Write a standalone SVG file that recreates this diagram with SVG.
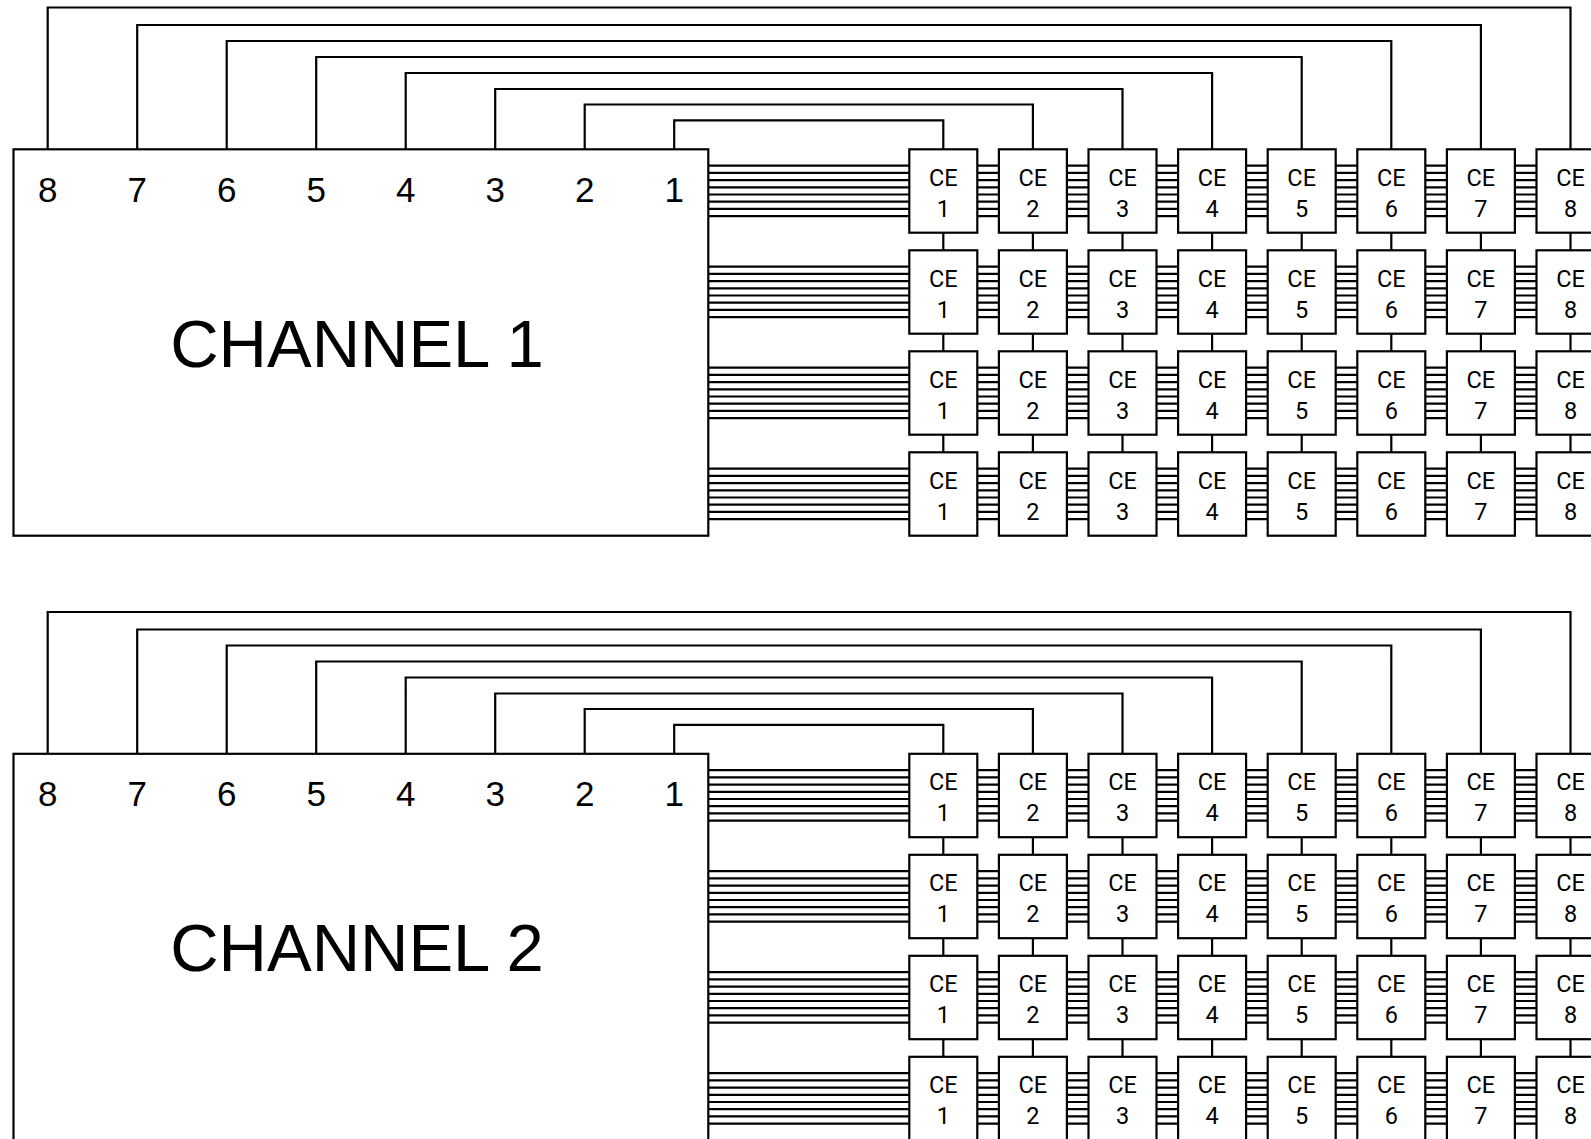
<svg xmlns="http://www.w3.org/2000/svg" xmlns:xlink="http://www.w3.org/1999/xlink" width="1591" height="1139" viewBox="0 0 1591 1139">
<style>
.box{fill:#fff;stroke:#000;stroke-width:2.2}
.ln{fill:none;stroke:#000;stroke-width:2.2}
.ce{font-family:Roboto,"Liberation Sans Narrow","DejaVu Sans Condensed",sans-serif;font-size:23.5px;text-anchor:middle;fill:#000}
.port{font-family:"Liberation Sans",Arial,sans-serif;font-size:35px;text-anchor:middle;fill:#000}
.chan{font-family:"Liberation Sans",Arial,sans-serif;font-size:67px;text-anchor:middle;fill:#000}
</style>
<defs>
<path id="bus" class="ln" d="M708.3 16.4H909.3M977.3 16.4H998.9M1066.9 16.4H1088.5M1156.5 16.4H1178.1M1246.1 16.4H1267.7M1335.7 16.4H1357.3M1425.3 16.4H1446.9M1514.9 16.4H1536.5
M708.3 23.6H909.3M977.3 23.6H998.9M1066.9 23.6H1088.5M1156.5 23.6H1178.1M1246.1 23.6H1267.7M1335.7 23.6H1357.3M1425.3 23.6H1446.9M1514.9 23.6H1536.5
M708.3 30.8H909.3M977.3 30.8H998.9M1066.9 30.8H1088.5M1156.5 30.8H1178.1M1246.1 30.8H1267.7M1335.7 30.8H1357.3M1425.3 30.8H1446.9M1514.9 30.8H1536.5
M708.3 38H909.3M977.3 38H998.9M1066.9 38H1088.5M1156.5 38H1178.1M1246.1 38H1267.7M1335.7 38H1357.3M1425.3 38H1446.9M1514.9 38H1536.5
M708.3 45.2H909.3M977.3 45.2H998.9M1066.9 45.2H1088.5M1156.5 45.2H1178.1M1246.1 45.2H1267.7M1335.7 45.2H1357.3M1425.3 45.2H1446.9M1514.9 45.2H1536.5
M708.3 52.4H909.3M977.3 52.4H998.9M1066.9 52.4H1088.5M1156.5 52.4H1178.1M1246.1 52.4H1267.7M1335.7 52.4H1357.3M1425.3 52.4H1446.9M1514.9 52.4H1536.5
M708.3 59.6H909.3M977.3 59.6H998.9M1066.9 59.6H1088.5M1156.5 59.6H1178.1M1246.1 59.6H1267.7M1335.7 59.6H1357.3M1425.3 59.6H1446.9M1514.9 59.6H1536.5
M708.3 66.8H909.3M977.3 66.8H998.9M1066.9 66.8H1088.5M1156.5 66.8H1178.1M1246.1 66.8H1267.7M1335.7 66.8H1357.3M1425.3 66.8H1446.9M1514.9 66.8H1536.5"/>
<path id="vert" class="ln" d="M943.3 83.4V101M1032.9 83.4V101M1122.5 83.4V101M1212.1 83.4V101M1301.7 83.4V101M1391.3 83.4V101M1480.9 83.4V101M1570.5 83.4V101"/>
<path id="routes" class="ln" d="M47.7 149.3V7.5H1570.5V149.3M137.2 149.3V25H1480.9V149.3M226.7 149.3V41H1391.3V149.3M316.2 149.3V57H1301.7V149.3M405.7 149.3V73H1212.1V149.3M495.2 149.3V89H1122.5V149.3M584.7 149.3V104.5H1032.9V149.3M674.2 149.3V120.3H943.3V149.3"/>
</defs>

<g id="connectors">
<use xlink:href="#routes"/>
<use xlink:href="#routes" transform="translate(0,604.5)"/>
<use xlink:href="#bus" transform="translate(0,149.3)"/>
<use xlink:href="#bus" transform="translate(0,250.3)"/>
<use xlink:href="#bus" transform="translate(0,351.3)"/>
<use xlink:href="#bus" transform="translate(0,452.3)"/>
<use xlink:href="#bus" transform="translate(0,753.8)"/>
<use xlink:href="#bus" transform="translate(0,854.8)"/>
<use xlink:href="#bus" transform="translate(0,955.8)"/>
<use xlink:href="#bus" transform="translate(0,1056.8)"/>
<use xlink:href="#vert" transform="translate(0,149.3)"/>
<use xlink:href="#vert" transform="translate(0,250.3)"/>
<use xlink:href="#vert" transform="translate(0,351.3)"/>
<use xlink:href="#vert" transform="translate(0,753.8)"/>
<use xlink:href="#vert" transform="translate(0,854.8)"/>
<use xlink:href="#vert" transform="translate(0,955.8)"/>
</g>

<g id="channel1">
<rect class="box" x="13.5" y="149.3" width="694.8" height="386.4"/>
<text class="port" x="47.7" y="201.7">8</text>
<text class="port" x="137.2" y="201.7">7</text>
<text class="port" x="226.7" y="201.7">6</text>
<text class="port" x="316.2" y="201.7">5</text>
<text class="port" x="405.7" y="201.7">4</text>
<text class="port" x="495.2" y="201.7">3</text>
<text class="port" x="584.7" y="201.7">2</text>
<text class="port" x="674.2" y="201.7">1</text>
<text class="chan" x="357" y="366.7">CHANNEL 1</text>
</g>

<g id="channel2">
<rect class="box" x="13.5" y="753.8" width="694.8" height="386.4"/>
<text class="port" x="47.7" y="806.2">8</text>
<text class="port" x="137.2" y="806.2">7</text>
<text class="port" x="226.7" y="806.2">6</text>
<text class="port" x="316.2" y="806.2">5</text>
<text class="port" x="405.7" y="806.2">4</text>
<text class="port" x="495.2" y="806.2">3</text>
<text class="port" x="584.7" y="806.2">2</text>
<text class="port" x="674.2" y="806.2">1</text>
<text class="chan" x="357" y="971.2">CHANNEL 2</text>
</g>

<g id="ch1-r1-ce1" transform="translate(909.3,149.3)"><rect class="box" width="68" height="83.4"/><text class="ce" x="34" y="36.7">CE</text><text class="ce" x="34" y="67.4">1</text></g>
<g id="ch1-r1-ce2" transform="translate(998.9,149.3)"><rect class="box" width="68" height="83.4"/><text class="ce" x="34" y="36.7">CE</text><text class="ce" x="34" y="67.4">2</text></g>
<g id="ch1-r1-ce3" transform="translate(1088.5,149.3)"><rect class="box" width="68" height="83.4"/><text class="ce" x="34" y="36.7">CE</text><text class="ce" x="34" y="67.4">3</text></g>
<g id="ch1-r1-ce4" transform="translate(1178.1,149.3)"><rect class="box" width="68" height="83.4"/><text class="ce" x="34" y="36.7">CE</text><text class="ce" x="34" y="67.4">4</text></g>
<g id="ch1-r1-ce5" transform="translate(1267.7,149.3)"><rect class="box" width="68" height="83.4"/><text class="ce" x="34" y="36.7">CE</text><text class="ce" x="34" y="67.4">5</text></g>
<g id="ch1-r1-ce6" transform="translate(1357.3,149.3)"><rect class="box" width="68" height="83.4"/><text class="ce" x="34" y="36.7">CE</text><text class="ce" x="34" y="67.4">6</text></g>
<g id="ch1-r1-ce7" transform="translate(1446.9,149.3)"><rect class="box" width="68" height="83.4"/><text class="ce" x="34" y="36.7">CE</text><text class="ce" x="34" y="67.4">7</text></g>
<g id="ch1-r1-ce8" transform="translate(1536.5,149.3)"><rect class="box" width="68" height="83.4"/><text class="ce" x="34" y="36.7">CE</text><text class="ce" x="34" y="67.4">8</text></g>

<g id="ch1-r2-ce1" transform="translate(909.3,250.3)"><rect class="box" width="68" height="83.4"/><text class="ce" x="34" y="36.7">CE</text><text class="ce" x="34" y="67.4">1</text></g>
<g id="ch1-r2-ce2" transform="translate(998.9,250.3)"><rect class="box" width="68" height="83.4"/><text class="ce" x="34" y="36.7">CE</text><text class="ce" x="34" y="67.4">2</text></g>
<g id="ch1-r2-ce3" transform="translate(1088.5,250.3)"><rect class="box" width="68" height="83.4"/><text class="ce" x="34" y="36.7">CE</text><text class="ce" x="34" y="67.4">3</text></g>
<g id="ch1-r2-ce4" transform="translate(1178.1,250.3)"><rect class="box" width="68" height="83.4"/><text class="ce" x="34" y="36.7">CE</text><text class="ce" x="34" y="67.4">4</text></g>
<g id="ch1-r2-ce5" transform="translate(1267.7,250.3)"><rect class="box" width="68" height="83.4"/><text class="ce" x="34" y="36.7">CE</text><text class="ce" x="34" y="67.4">5</text></g>
<g id="ch1-r2-ce6" transform="translate(1357.3,250.3)"><rect class="box" width="68" height="83.4"/><text class="ce" x="34" y="36.7">CE</text><text class="ce" x="34" y="67.4">6</text></g>
<g id="ch1-r2-ce7" transform="translate(1446.9,250.3)"><rect class="box" width="68" height="83.4"/><text class="ce" x="34" y="36.7">CE</text><text class="ce" x="34" y="67.4">7</text></g>
<g id="ch1-r2-ce8" transform="translate(1536.5,250.3)"><rect class="box" width="68" height="83.4"/><text class="ce" x="34" y="36.7">CE</text><text class="ce" x="34" y="67.4">8</text></g>

<g id="ch1-r3-ce1" transform="translate(909.3,351.3)"><rect class="box" width="68" height="83.4"/><text class="ce" x="34" y="36.7">CE</text><text class="ce" x="34" y="67.4">1</text></g>
<g id="ch1-r3-ce2" transform="translate(998.9,351.3)"><rect class="box" width="68" height="83.4"/><text class="ce" x="34" y="36.7">CE</text><text class="ce" x="34" y="67.4">2</text></g>
<g id="ch1-r3-ce3" transform="translate(1088.5,351.3)"><rect class="box" width="68" height="83.4"/><text class="ce" x="34" y="36.7">CE</text><text class="ce" x="34" y="67.4">3</text></g>
<g id="ch1-r3-ce4" transform="translate(1178.1,351.3)"><rect class="box" width="68" height="83.4"/><text class="ce" x="34" y="36.7">CE</text><text class="ce" x="34" y="67.4">4</text></g>
<g id="ch1-r3-ce5" transform="translate(1267.7,351.3)"><rect class="box" width="68" height="83.4"/><text class="ce" x="34" y="36.7">CE</text><text class="ce" x="34" y="67.4">5</text></g>
<g id="ch1-r3-ce6" transform="translate(1357.3,351.3)"><rect class="box" width="68" height="83.4"/><text class="ce" x="34" y="36.7">CE</text><text class="ce" x="34" y="67.4">6</text></g>
<g id="ch1-r3-ce7" transform="translate(1446.9,351.3)"><rect class="box" width="68" height="83.4"/><text class="ce" x="34" y="36.7">CE</text><text class="ce" x="34" y="67.4">7</text></g>
<g id="ch1-r3-ce8" transform="translate(1536.5,351.3)"><rect class="box" width="68" height="83.4"/><text class="ce" x="34" y="36.7">CE</text><text class="ce" x="34" y="67.4">8</text></g>

<g id="ch1-r4-ce1" transform="translate(909.3,452.3)"><rect class="box" width="68" height="83.4"/><text class="ce" x="34" y="36.7">CE</text><text class="ce" x="34" y="67.4">1</text></g>
<g id="ch1-r4-ce2" transform="translate(998.9,452.3)"><rect class="box" width="68" height="83.4"/><text class="ce" x="34" y="36.7">CE</text><text class="ce" x="34" y="67.4">2</text></g>
<g id="ch1-r4-ce3" transform="translate(1088.5,452.3)"><rect class="box" width="68" height="83.4"/><text class="ce" x="34" y="36.7">CE</text><text class="ce" x="34" y="67.4">3</text></g>
<g id="ch1-r4-ce4" transform="translate(1178.1,452.3)"><rect class="box" width="68" height="83.4"/><text class="ce" x="34" y="36.7">CE</text><text class="ce" x="34" y="67.4">4</text></g>
<g id="ch1-r4-ce5" transform="translate(1267.7,452.3)"><rect class="box" width="68" height="83.4"/><text class="ce" x="34" y="36.7">CE</text><text class="ce" x="34" y="67.4">5</text></g>
<g id="ch1-r4-ce6" transform="translate(1357.3,452.3)"><rect class="box" width="68" height="83.4"/><text class="ce" x="34" y="36.7">CE</text><text class="ce" x="34" y="67.4">6</text></g>
<g id="ch1-r4-ce7" transform="translate(1446.9,452.3)"><rect class="box" width="68" height="83.4"/><text class="ce" x="34" y="36.7">CE</text><text class="ce" x="34" y="67.4">7</text></g>
<g id="ch1-r4-ce8" transform="translate(1536.5,452.3)"><rect class="box" width="68" height="83.4"/><text class="ce" x="34" y="36.7">CE</text><text class="ce" x="34" y="67.4">8</text></g>

<g id="ch2-r1-ce1" transform="translate(909.3,753.8)"><rect class="box" width="68" height="83.4"/><text class="ce" x="34" y="36.7">CE</text><text class="ce" x="34" y="67.4">1</text></g>
<g id="ch2-r1-ce2" transform="translate(998.9,753.8)"><rect class="box" width="68" height="83.4"/><text class="ce" x="34" y="36.7">CE</text><text class="ce" x="34" y="67.4">2</text></g>
<g id="ch2-r1-ce3" transform="translate(1088.5,753.8)"><rect class="box" width="68" height="83.4"/><text class="ce" x="34" y="36.7">CE</text><text class="ce" x="34" y="67.4">3</text></g>
<g id="ch2-r1-ce4" transform="translate(1178.1,753.8)"><rect class="box" width="68" height="83.4"/><text class="ce" x="34" y="36.7">CE</text><text class="ce" x="34" y="67.4">4</text></g>
<g id="ch2-r1-ce5" transform="translate(1267.7,753.8)"><rect class="box" width="68" height="83.4"/><text class="ce" x="34" y="36.7">CE</text><text class="ce" x="34" y="67.4">5</text></g>
<g id="ch2-r1-ce6" transform="translate(1357.3,753.8)"><rect class="box" width="68" height="83.4"/><text class="ce" x="34" y="36.7">CE</text><text class="ce" x="34" y="67.4">6</text></g>
<g id="ch2-r1-ce7" transform="translate(1446.9,753.8)"><rect class="box" width="68" height="83.4"/><text class="ce" x="34" y="36.7">CE</text><text class="ce" x="34" y="67.4">7</text></g>
<g id="ch2-r1-ce8" transform="translate(1536.5,753.8)"><rect class="box" width="68" height="83.4"/><text class="ce" x="34" y="36.7">CE</text><text class="ce" x="34" y="67.4">8</text></g>

<g id="ch2-r2-ce1" transform="translate(909.3,854.8)"><rect class="box" width="68" height="83.4"/><text class="ce" x="34" y="36.7">CE</text><text class="ce" x="34" y="67.4">1</text></g>
<g id="ch2-r2-ce2" transform="translate(998.9,854.8)"><rect class="box" width="68" height="83.4"/><text class="ce" x="34" y="36.7">CE</text><text class="ce" x="34" y="67.4">2</text></g>
<g id="ch2-r2-ce3" transform="translate(1088.5,854.8)"><rect class="box" width="68" height="83.4"/><text class="ce" x="34" y="36.7">CE</text><text class="ce" x="34" y="67.4">3</text></g>
<g id="ch2-r2-ce4" transform="translate(1178.1,854.8)"><rect class="box" width="68" height="83.4"/><text class="ce" x="34" y="36.7">CE</text><text class="ce" x="34" y="67.4">4</text></g>
<g id="ch2-r2-ce5" transform="translate(1267.7,854.8)"><rect class="box" width="68" height="83.4"/><text class="ce" x="34" y="36.7">CE</text><text class="ce" x="34" y="67.4">5</text></g>
<g id="ch2-r2-ce6" transform="translate(1357.3,854.8)"><rect class="box" width="68" height="83.4"/><text class="ce" x="34" y="36.7">CE</text><text class="ce" x="34" y="67.4">6</text></g>
<g id="ch2-r2-ce7" transform="translate(1446.9,854.8)"><rect class="box" width="68" height="83.4"/><text class="ce" x="34" y="36.7">CE</text><text class="ce" x="34" y="67.4">7</text></g>
<g id="ch2-r2-ce8" transform="translate(1536.5,854.8)"><rect class="box" width="68" height="83.4"/><text class="ce" x="34" y="36.7">CE</text><text class="ce" x="34" y="67.4">8</text></g>

<g id="ch2-r3-ce1" transform="translate(909.3,955.8)"><rect class="box" width="68" height="83.4"/><text class="ce" x="34" y="36.7">CE</text><text class="ce" x="34" y="67.4">1</text></g>
<g id="ch2-r3-ce2" transform="translate(998.9,955.8)"><rect class="box" width="68" height="83.4"/><text class="ce" x="34" y="36.7">CE</text><text class="ce" x="34" y="67.4">2</text></g>
<g id="ch2-r3-ce3" transform="translate(1088.5,955.8)"><rect class="box" width="68" height="83.4"/><text class="ce" x="34" y="36.7">CE</text><text class="ce" x="34" y="67.4">3</text></g>
<g id="ch2-r3-ce4" transform="translate(1178.1,955.8)"><rect class="box" width="68" height="83.4"/><text class="ce" x="34" y="36.7">CE</text><text class="ce" x="34" y="67.4">4</text></g>
<g id="ch2-r3-ce5" transform="translate(1267.7,955.8)"><rect class="box" width="68" height="83.4"/><text class="ce" x="34" y="36.7">CE</text><text class="ce" x="34" y="67.4">5</text></g>
<g id="ch2-r3-ce6" transform="translate(1357.3,955.8)"><rect class="box" width="68" height="83.4"/><text class="ce" x="34" y="36.7">CE</text><text class="ce" x="34" y="67.4">6</text></g>
<g id="ch2-r3-ce7" transform="translate(1446.9,955.8)"><rect class="box" width="68" height="83.4"/><text class="ce" x="34" y="36.7">CE</text><text class="ce" x="34" y="67.4">7</text></g>
<g id="ch2-r3-ce8" transform="translate(1536.5,955.8)"><rect class="box" width="68" height="83.4"/><text class="ce" x="34" y="36.7">CE</text><text class="ce" x="34" y="67.4">8</text></g>

<g id="ch2-r4-ce1" transform="translate(909.3,1056.8)"><rect class="box" width="68" height="83.4"/><text class="ce" x="34" y="36.7">CE</text><text class="ce" x="34" y="67.4">1</text></g>
<g id="ch2-r4-ce2" transform="translate(998.9,1056.8)"><rect class="box" width="68" height="83.4"/><text class="ce" x="34" y="36.7">CE</text><text class="ce" x="34" y="67.4">2</text></g>
<g id="ch2-r4-ce3" transform="translate(1088.5,1056.8)"><rect class="box" width="68" height="83.4"/><text class="ce" x="34" y="36.7">CE</text><text class="ce" x="34" y="67.4">3</text></g>
<g id="ch2-r4-ce4" transform="translate(1178.1,1056.8)"><rect class="box" width="68" height="83.4"/><text class="ce" x="34" y="36.7">CE</text><text class="ce" x="34" y="67.4">4</text></g>
<g id="ch2-r4-ce5" transform="translate(1267.7,1056.8)"><rect class="box" width="68" height="83.4"/><text class="ce" x="34" y="36.7">CE</text><text class="ce" x="34" y="67.4">5</text></g>
<g id="ch2-r4-ce6" transform="translate(1357.3,1056.8)"><rect class="box" width="68" height="83.4"/><text class="ce" x="34" y="36.7">CE</text><text class="ce" x="34" y="67.4">6</text></g>
<g id="ch2-r4-ce7" transform="translate(1446.9,1056.8)"><rect class="box" width="68" height="83.4"/><text class="ce" x="34" y="36.7">CE</text><text class="ce" x="34" y="67.4">7</text></g>
<g id="ch2-r4-ce8" transform="translate(1536.5,1056.8)"><rect class="box" width="68" height="83.4"/><text class="ce" x="34" y="36.7">CE</text><text class="ce" x="34" y="67.4">8</text></g>
</svg>
